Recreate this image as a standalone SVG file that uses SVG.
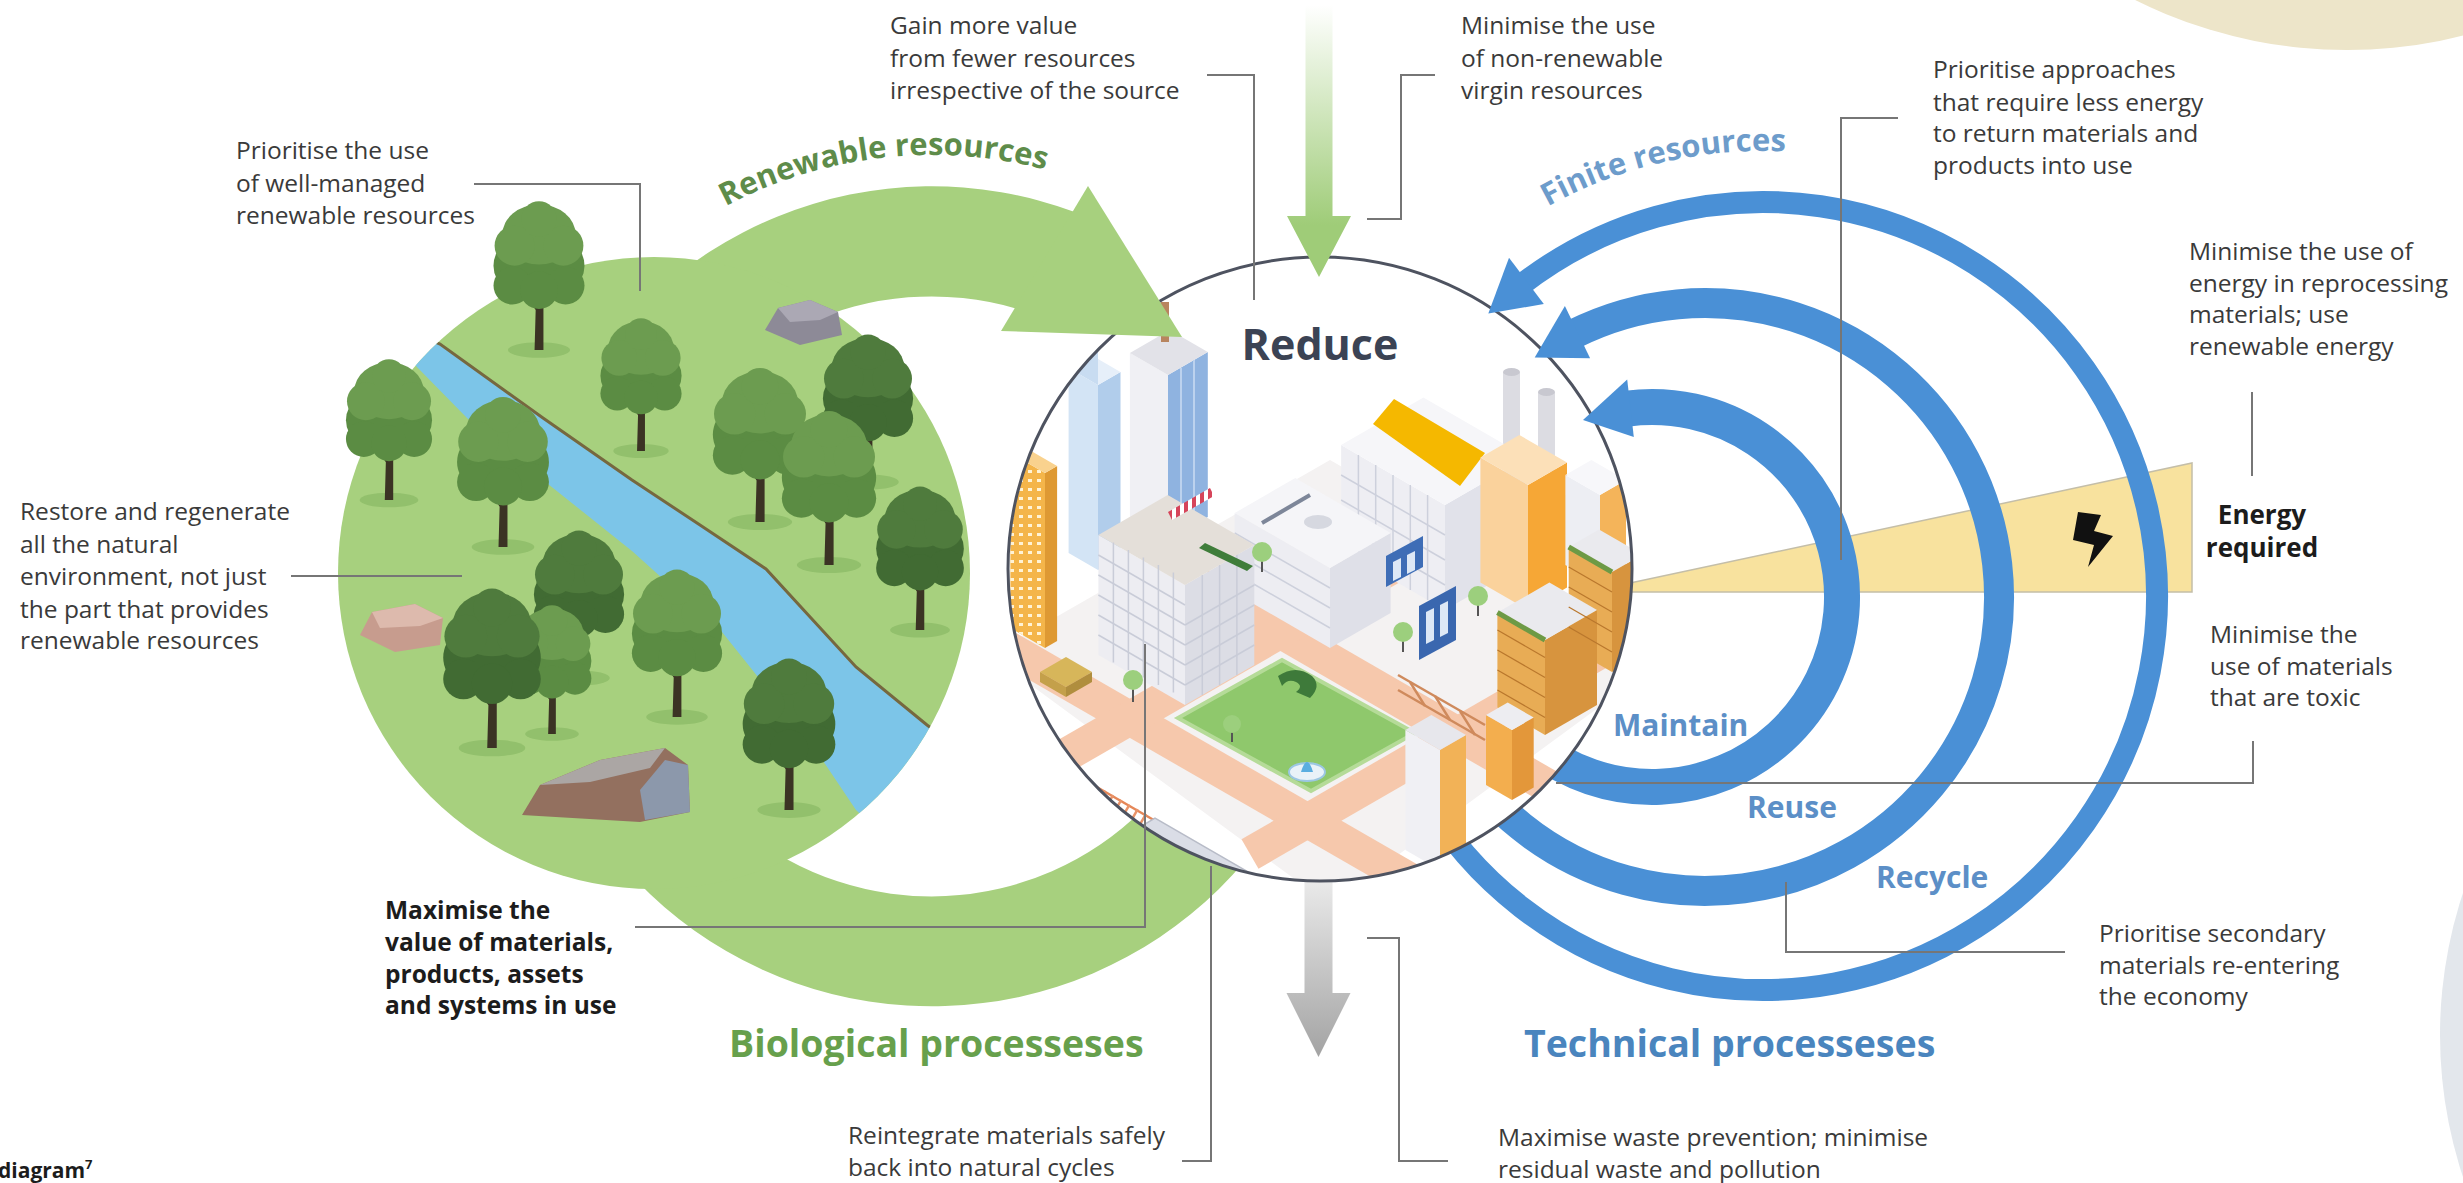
<svg xmlns="http://www.w3.org/2000/svg" xmlns:xlink="http://www.w3.org/1999/xlink" width="2463" height="1183" viewBox="0 0 2463 1183">
<defs>
<style>
.t{font-family:"Open Sans","Liberation Sans",Arial,sans-serif;font-size:24.5px;fill:#3A3A3A}
.b{font-weight:700;fill:#1C1C1C}
.ln{fill:none;stroke:#767676;stroke-width:2}
.ttl{font-family:"Open Sans","Liberation Sans",Arial,sans-serif;font-weight:700;font-size:37.5px}
.lb{font-family:"Open Sans","Liberation Sans",Arial,sans-serif;font-weight:700;font-size:30px;fill:#5C8FC7}
.crv{font-family:"Open Sans","Liberation Sans",Arial,sans-serif;font-weight:700;font-size:31px}
.arc{fill:none;stroke:#4A90D6}
</style>
<clipPath id="cityClip"><circle cx="1320" cy="569" r="312"/></clipPath>
<clipPath id="discClip"><circle cx="654" cy="573" r="316"/></clipPath>
<linearGradient id="gGreen" gradientUnits="userSpaceOnUse" x1="0" y1="5" x2="0" y2="225">
<stop offset="0" stop-color="#FFFFFF"/><stop offset="1" stop-color="#9FCC78"/>
</linearGradient>
<linearGradient id="gGray" gradientUnits="userSpaceOnUse" x1="0" y1="870" x2="0" y2="1057">
<stop offset="0" stop-color="#EEEEEE"/><stop offset="1" stop-color="#A3A3A3"/>
</linearGradient>
<pattern id="dots" width="9" height="9" patternUnits="userSpaceOnUse"><rect x="2" y="2" width="4" height="3" fill="#FFF3D6"/></pattern>
<pattern id="awn" width="8" height="8" patternUnits="userSpaceOnUse"><rect width="8" height="8" fill="#FFFFFF"/><rect width="4" height="8" fill="#D6445A"/></pattern>
<g id="cBot"><ellipse cx="0" cy="-76" rx="41" ry="32"/><circle cx="-24" cy="-58" r="17"/><circle cx="24" cy="-58" r="17"/><circle cx="0" cy="-54" r="17"/></g>
<g id="cTop"><ellipse cx="0" cy="-104" rx="33" ry="27"/><circle cx="-22" cy="-94" r="18"/><circle cx="22" cy="-94" r="18"/><circle cx="0" cy="-118" r="16"/></g>
<g id="trunk"><ellipse cx="0" cy="0" rx="28" ry="7" fill="#92C06C"/><path d="M-4,0 L-3,-36 L-12,-50 L-9,-52 L-2,-43 L-1,-58 L2,-58 L2,-44 L9,-53 L12,-51 L4,-38 L4,0 Z" fill="#3B3324"/></g>
<g id="treeM"><use href="#trunk"/><use href="#cBot" fill="#5B8C43"/><use href="#cTop" fill="#6C9C50"/></g>
<g id="treeD"><use href="#trunk"/><use href="#cBot" fill="#416B33"/><use href="#cTop" fill="#4F7B3D"/></g>
<path id="arcRen" d="M544.4,385.6 A441,441 0 0 1 1262.3,303.8"/>
<path id="arcFin" d="M1350.4,429.3 A445,445 0 0 1 2060.8,265.3"/>
</defs>

<rect width="2463" height="1183" fill="#FFFFFF"/>
<g id="decor">
<circle cx="2347" cy="-424" r="474" fill="#EDE5C9"/>
<circle cx="2890" cy="1035" r="450" fill="#E3E7EC"/>
</g>

<g id="energy-wedge">
<polygon points="1588,592 2192,463 2192,592" fill="#F8E29E" stroke="#C4BEA8" stroke-width="1.5"/>
<polygon points="2078,512 2101,515 2094,531 2113,536 2088,567 2094,545 2073,540" fill="#111111"/>
</g>

<g id="technical-loops">
<path class="arc" stroke-width="36" d="M1487.5,692 A190,190 0 1 0 1627.2,408.6"/>
<path class="arc" stroke-width="30" d="M1450.4,744 A294,294 0 1 0 1572.9,334.4"/>
<path class="arc" stroke-width="22" d="M1421.8,793 A394,394 0 1 0 1521,285.1"/>
</g>

<g id="biological-loop">
<path d="M1267.9,831.2 A410,410 0 1 1 1074.7,212 L1016.7,308.7 A300,300 0 1 0 1177.7,768.1 Z" fill="#A7D07E"/>
</g>

<g id="waste-arrow">
<polygon points="1304.5,860 1332.5,860 1332.5,993 1350.5,993 1318.5,1057 1286.5,993 1304.5,993" fill="url(#gGray)"/>
</g>

<g id="nature-disc">
<circle cx="654" cy="573" r="316" fill="#A7D07E"/>
<g clip-path="url(#discClip)">
<path d="M380,318 L440,344 L543,418 L632,480 L700,525 L766,569 L811,618 L856,667 L927,725 L1000,780 L950,900 L856,810 L811,743 L722,632 L632,551 L543,480 L467,418 L416,366 L370,340 Z" fill="#7CC5E8"/>
<polyline points="380,318 440,344 543,418 632,480 700,525 766,569 811,618 856,667 927,725 1000,780" fill="none" stroke="#76683F" stroke-width="3"/>
</g>
<g id="rocks">
<polygon points="765,330 778,308 810,300 838,312 842,335 800,345" fill="#8D8A97"/>
<polygon points="778,308 810,300 838,312 820,320 790,322" fill="#ABA8B4"/>
<polygon points="360,635 372,612 415,604 443,618 440,645 395,652" fill="#C79C8E"/>
<polygon points="372,612 415,604 443,618 420,626 380,628" fill="#DDBAAD"/>
<polygon points="522,815 540,785 600,760 665,748 688,765 690,812 640,822" fill="#93705F"/>
<polygon points="640,790 665,760 688,765 690,812 645,820" fill="#8C98AB"/>
<polygon points="540,785 600,760 665,748 650,768 590,782" fill="#ABA6A4"/>
</g>
<g id="trees">
<use href="#treeM" transform="translate(539,350) scale(1.11)"/>
<use href="#treeM" transform="translate(641,451) scale(0.99)"/>
<use href="#treeM" transform="translate(389,500) scale(1.05)"/>
<use href="#treeM" transform="translate(503,547) scale(1.12)"/>
<use href="#treeD" transform="translate(868,482) scale(1.1)"/>
<use href="#treeM" transform="translate(760,522) scale(1.15)"/>
<use href="#treeM" transform="translate(829,565) scale(1.15)"/>
<use href="#treeD" transform="translate(920,630) scale(1.07)"/>
<use href="#treeD" transform="translate(579,678) scale(1.1)"/>
<use href="#treeM" transform="translate(552,734) scale(0.96)"/>
<use href="#treeD" transform="translate(492,748) scale(1.19)"/>
<use href="#treeM" transform="translate(677,717) scale(1.1)"/>
<use href="#treeD" transform="translate(789,810) scale(1.13)"/>
</g>
</g>

<g id="reduce-city">
<circle cx="1320" cy="569" r="312" fill="#FFFFFF"/>
<g clip-path="url(#cityClip)">
<polygon points="990,655 1330,460 1670,655 1330,905" fill="#F4F2F2"/>
<g stroke="#F6C8AC" stroke-width="34">
<line x1="1001" y1="644" x2="1478" y2="919"/>
<line x1="1250" y1="854" x2="1650" y2="623"/>
<line x1="1200" y1="585" x2="1560" y2="793"/>
<line x1="1040" y1="770" x2="1420" y2="551"/>
</g>
<line x1="1095" y1="786" x2="1240" y2="870" stroke="#E58758" stroke-width="2.5"/>
<line x1="1090" y1="796" x2="1235" y2="880" stroke="#E58758" stroke-width="2.5"/>
<line x1="1092" y1="791" x2="1238" y2="875" stroke="#E9946A" stroke-width="14" stroke-dasharray="2.5 7"/>
<polygon points="1135,830 1155,818 1300,902 1280,914" fill="#DADDE6" stroke="#B8BCC8" stroke-width="1.5"/>
<polygon points="1178,718 1282,660 1415,733 1311,791" fill="#8FC86C" stroke="#B5DB98" stroke-width="4"/>
<path d="M1278,676 q18,-12 34,0 q10,10 -2,22 l-14,-6 q8,-6 0,-10 q-8,-4 -14,4 z" fill="#3E7A3A"/>
<ellipse cx="1307" cy="772" rx="18" ry="9" fill="#E9F2F8" stroke="#9CC7E3" stroke-width="2"/>
<path d="M1301,772 q6,-20 12,0 z" fill="#5AAEE0"/>
<rect x="1503" y="372" width="17" height="95" fill="#DCDCE2"/>
<ellipse cx="1511.5" cy="372" rx="8.5" ry="4" fill="#C8C8D0"/>
<rect x="1538" y="392" width="17" height="80" fill="#DCDCE2"/>
<ellipse cx="1546.5" cy="392" rx="8.5" ry="4" fill="#C8C8D0"/>
<g id="glass-tower">
<polygon points="1098,570 1068.6,553 1068.6,368 1098,385" fill="#D3E4F5"/>
<polygon points="1098,570 1120.5,557 1120.5,372 1098,385" fill="#B1CDEB"/>
<polygon points="1098,385 1120.5,372 1091.1,355 1068.6,368" fill="#E6EFF9"/>
<polygon points="1068.6,368 1082,332 1098,345 1098,385" fill="#C8DCF1"/>
</g>
<g id="blue-tower">
<polygon points="1168,540 1129.9,518 1129.9,353 1168,375" fill="#F0F0F4"/>
<polygon points="1168,540 1207.8,517 1207.8,352 1168,375" fill="#8FB3E0"/>
<polygon points="1168,375 1207.8,352 1169.7,330 1129.9,353" fill="#E2E2E8"/>
<line x1="1181" y1="368" x2="1181" y2="532" stroke="#BCD2EE" stroke-width="2"/>
<line x1="1194" y1="360" x2="1194" y2="525" stroke="#BCD2EE" stroke-width="2"/>
<rect x="1161" y="302" width="8" height="40" fill="#B8855F"/>
</g>
<g id="factory">
<polygon points="1445,610 1341.1,550 1341.1,445 1445,505" fill="#EEEEF3"/>
<polygon points="1445,610 1527.3,562.5 1527.3,457.5 1445,505" fill="#E1E2EA"/>
<polygon points="1445,505 1527.3,457.5 1423.4,397.5 1341.1,445" fill="#F6F6F9"/>
<polygon points="1373,424 1394,399 1485,453 1460,486" fill="#F5B800"/>
<g stroke="#CDD0DC" stroke-width="1.5">
<line x1="1341.1" y1="525" x2="1445" y2="585"/><line x1="1341.1" y1="500" x2="1445" y2="560"/><line x1="1341.1" y1="475" x2="1445" y2="535"/>
<line x1="1358.4" y1="560" x2="1358.4" y2="455"/><line x1="1375.7" y1="570" x2="1375.7" y2="465"/><line x1="1393" y1="580" x2="1393" y2="475"/><line x1="1410.3" y1="590" x2="1410.3" y2="485"/><line x1="1427.6" y1="600" x2="1427.6" y2="495"/>
</g>
</g>
<g id="orange-block">
<polygon points="1528,610 1480.4,582.5 1480.4,457.5 1528,485" fill="#FAD29C"/>
<polygon points="1528,610 1567,587.5 1567,462.5 1528,485" fill="#F6A736"/>
<polygon points="1528,485 1567,462.5 1519.4,435 1480.4,457.5" fill="#FCE0B8"/>
</g>
<polygon points="1600,585 1565.4,565 1565.4,475 1600,495" fill="#EDEEF3"/>
<polygon points="1600,585 1626,570 1626,480 1600,495" fill="#F4B45A"/>
<polygon points="1600,495 1626,480 1591.4,460 1565.4,475" fill="#F7F7FA"/>
<g id="mid-block">
<polygon points="1330,648 1234.7,593 1234.7,513 1330,568" fill="#EDEDF2"/>
<polygon points="1330,648 1390.6,613 1390.6,533 1330,568" fill="#DFE0E8"/>
<polygon points="1330,568 1390.6,533 1295.3,478 1234.7,513" fill="#F5F5F8"/>
<line x1="1262" y1="523" x2="1310" y2="495" stroke="#7D8699" stroke-width="4"/>
<ellipse cx="1318" cy="522" rx="14" ry="7" fill="#D6D8E0"/>
<g stroke="#CDD0DC" stroke-width="1.5"><line x1="1234.7" y1="573" x2="1330" y2="628"/><line x1="1234.7" y1="553" x2="1330" y2="608"/><line x1="1234.7" y1="533" x2="1330" y2="588"/></g>
</g>
<polygon points="1386,556 1423,536 1423,567 1386,587" fill="#3E6DB6"/>
<polygon points="1393,562 1401,558 1401,577 1393,581" fill="#DDE8F6"/>
<polygon points="1407,555 1415,551 1415,570 1407,574" fill="#DDE8F6"/>
<polygon points="1419,606 1456,586 1456,640 1419,660" fill="#3A67AF"/>
<polygon points="1426,612 1434,608 1434,640 1426,644" fill="#DDE8F6"/>
<polygon points="1440,605 1448,601 1448,633 1440,637" fill="#DDE8F6"/>
<g id="brick-blocks">
<polygon points="1612,672 1568.7,647 1568.7,547 1612,572" fill="#E8AC55"/>
<polygon points="1612,672 1642.3,654.5 1642.3,554.5 1612,572" fill="#D7943E"/>
<polygon points="1612,572 1642.3,554.5 1599,529.5 1568.7,547" fill="#EAEAEE"/>
<line x1="1568.7" y1="547" x2="1612" y2="572" stroke="#6D9A45" stroke-width="5"/>
<polygon points="1545,735 1497.4,707.5 1497.4,612.5 1545,640" fill="#E8AC55"/>
<polygon points="1545,735 1597,705 1597,610 1545,640" fill="#D7943E"/>
<polygon points="1545,640 1597,610 1549.4,582.5 1497.4,612.5" fill="#EAEAEE"/>
<line x1="1497.4" y1="612.5" x2="1545" y2="640" stroke="#6D9A45" stroke-width="5"/>
<g stroke="#B9772D" stroke-width="1.2">
<line x1="1497.4" y1="630" x2="1545" y2="657.5"/><line x1="1497.4" y1="650" x2="1545" y2="677.5"/><line x1="1497.4" y1="670" x2="1545" y2="697.5"/><line x1="1497.4" y1="690" x2="1545" y2="717.5"/>
<line x1="1568.7" y1="567" x2="1612" y2="592"/><line x1="1568.7" y1="587" x2="1612" y2="612"/><line x1="1568.7" y1="607" x2="1612" y2="632"/><line x1="1568.7" y1="627" x2="1612" y2="652"/>
</g>
</g>
<g id="orange-tall">
<polygon points="1045,648 1010.4,628 1010.4,453 1045,473" fill="#F4B54A"/>
<polygon points="1045,648 1010.4,628 1010.4,453 1045,473" fill="url(#dots)"/>
<polygon points="1045,648 1057.1,641 1057.1,466 1045,473" fill="#DE9933"/>
<polygon points="1045,473 1057.1,466 1022.5,446 1010.4,453" fill="#F9D28E"/>
</g>
<g id="big-white">
<polygon points="1185,705 1098.4,655 1098.4,535 1185,585" fill="#EDEDF2"/>
<polygon points="1185,705 1254.3,665 1254.3,545 1185,585" fill="#DCDDE5"/>
<polygon points="1185,585 1254.3,545 1167.7,495 1098.4,535" fill="#E4DFD9"/>
<g stroke="#C9CCD8" stroke-width="1.5">
<line x1="1098.4" y1="635" x2="1185" y2="685"/><line x1="1098.4" y1="615" x2="1185" y2="665"/><line x1="1098.4" y1="595" x2="1185" y2="645"/><line x1="1098.4" y1="575" x2="1185" y2="625"/><line x1="1098.4" y1="555" x2="1185" y2="605"/>
<line x1="1113.4" y1="662.5" x2="1113.4" y2="542.5"/><line x1="1128.4" y1="670" x2="1128.4" y2="550"/><line x1="1143.4" y1="677.5" x2="1143.4" y2="557.5"/><line x1="1158.4" y1="685" x2="1158.4" y2="565"/><line x1="1173.4" y1="692.5" x2="1173.4" y2="572.5"/>
<line x1="1185" y1="685" x2="1254.3" y2="645"/><line x1="1185" y1="665" x2="1254.3" y2="625"/><line x1="1185" y1="645" x2="1254.3" y2="605"/><line x1="1185" y1="625" x2="1254.3" y2="585"/>
<line x1="1202.3" y1="695" x2="1202.3" y2="575"/><line x1="1219.6" y1="685" x2="1219.6" y2="565"/><line x1="1236.9" y1="675" x2="1236.9" y2="555"/>
</g>
<polygon points="1168,512 1210,488 1214,496 1172,520" fill="url(#awn)"/>
<polygon points="1199,548 1205,543 1253,566 1247,571" fill="#3F7D3A"/>
</g>
<polygon points="1040,672 1066,657 1092,672 1066,687" fill="#D7B65A"/>
<polygon points="1040,672 1066,687 1066,697 1040,682" fill="#C4A04A"/>
<polygon points="1066,687 1092,672 1092,682 1066,697" fill="#B08E3E"/>
<g stroke="#CF8A5C" stroke-width="2.5">
<line x1="1398" y1="690" x2="1485" y2="740"/><line x1="1398" y1="675" x2="1485" y2="725"/>
<line x1="1410" y1="682" x2="1425" y2="706"/><line x1="1435" y1="696" x2="1450" y2="720"/><line x1="1460" y1="711" x2="1475" y2="735"/>
</g>
<polygon points="1440,870 1405.4,850 1405.4,730 1440,750" fill="#F0F0F4"/>
<polygon points="1440,870 1466,855 1466,735 1440,750" fill="#F2B257"/>
<polygon points="1440,750 1466,735 1431.4,715 1405.4,730" fill="#E7E7EC"/>
<polygon points="1512,800 1486,785 1486,715 1512,730" fill="#F3AE4E"/>
<polygon points="1512,800 1533.7,787.5 1533.7,717.5 1512,730" fill="#E3973A"/>
<polygon points="1512,730 1533.7,717.5 1507.7,702.5 1486,715" fill="#EDEDF1"/>
<g fill="#9CCF7D">
<line x1="1133" y1="702" x2="1133" y2="684" stroke="#555" stroke-width="2"/><circle cx="1133" cy="680" r="10"/>
<line x1="1262" y1="572" x2="1262" y2="556" stroke="#555" stroke-width="2"/><circle cx="1262" cy="552" r="10"/>
<line x1="1403" y1="652" x2="1403" y2="636" stroke="#555" stroke-width="2"/><circle cx="1403" cy="632" r="10"/>
<line x1="1478" y1="616" x2="1478" y2="600" stroke="#555" stroke-width="2"/><circle cx="1478" cy="596" r="10"/>
<line x1="1232" y1="742" x2="1232" y2="728" stroke="#555" stroke-width="2"/><circle cx="1232" cy="724" r="9"/>
</g>
</g>
<circle cx="1320" cy="569" r="312" fill="none" stroke="#4E5360" stroke-width="3"/>
<text x="1320" y="360" text-anchor="middle" style="font-family:'Open Sans','Liberation Sans',Arial,sans-serif;font-weight:700;font-size:43px;fill:#3B4354">Reduce</text>
</g>

<g id="arrowheads">
<polygon points="1088,186 1182,337 1001,331" fill="#A7D07E"/>
<polygon points="1627.2,379.4 1583,420 1633.8,437" fill="#4A90D6"/>
<polygon points="1564.9,306 1534.7,357.4 1590.1,358.2" fill="#4A90D6"/>
<polygon points="1509,257.7 1488.3,313.5 1543.8,304.1" fill="#4A90D6"/>
</g>

<g id="virgin-arrow">
<polygon points="1305.5,0 1332.5,0 1332.5,216 1351,216 1319,277 1287,216 1305.5,216" fill="url(#gGreen)"/>
</g>

<g id="connectors">
<path class="ln" d="M474,184 H640 V291"/>
<path class="ln" d="M291,576 H462"/>
<path class="ln" d="M1207,75 H1254 V300"/>
<path class="ln" d="M1435,75 H1401 V219 H1367"/>
<path class="ln" d="M1898,118 H1841 V560"/>
<path class="ln" d="M2252,392 V476"/>
<path class="ln" d="M2253,741 V783 H1556"/>
<path class="ln" d="M2065,952 H1786 V882"/>
<path class="ln" d="M1367,938 H1399 V1161 H1448"/>
<path class="ln" d="M1182,1161 H1211 V866"/>
<path class="ln" d="M635,927 H1145 V644"/>
</g>

<g id="labels">
<text class="crv" fill="#5E8C4A"><textPath href="#arcRen" startOffset="50%" text-anchor="middle">Renewable resources</textPath></text>
<text class="crv" fill="#6D9CCB"><textPath href="#arcFin" startOffset="50%" text-anchor="middle">Finite resources</textPath></text>
<text class="ttl" x="729" y="1057" fill="#67A04C">Biological processeses</text>
<text class="ttl" x="1524" y="1057" fill="#4A85BE">Technical processeses</text>
<text class="lb" x="1613" y="736">Maintain</text>
<text class="lb" x="1747" y="818">Reuse</text>
<text class="lb" x="1876" y="888">Recycle</text>
</g>

<g id="note-renewable"><text class="t"><tspan x="236" y="159">Prioritise the use</tspan><tspan x="236" y="191.5">of well-managed</tspan><tspan x="236" y="224">renewable resources</tspan></text></g>
<g id="note-restore"><text class="t"><tspan x="20" y="520">Restore and regenerate</tspan><tspan x="20" y="553">all the natural</tspan><tspan x="20" y="585">environment, not just</tspan><tspan x="20" y="618">the part that provides</tspan><tspan x="20" y="649">renewable resources</tspan></text></g>
<g id="note-value"><text class="t"><tspan x="890" y="34">Gain more value</tspan><tspan x="890" y="67">from fewer resources</tspan><tspan x="890" y="99">irrespective of the source</tspan></text></g>
<g id="note-virgin"><text class="t"><tspan x="1461" y="34">Minimise the use</tspan><tspan x="1461" y="67">of non-renewable</tspan><tspan x="1461" y="99">virgin resources</tspan></text></g>
<g id="note-approaches"><text class="t"><tspan x="1933" y="78">Prioritise approaches</tspan><tspan x="1933" y="111">that require less energy</tspan><tspan x="1933" y="142">to return materials and</tspan><tspan x="1933" y="174">products into use</tspan></text></g>
<g id="note-energy"><text class="t"><tspan x="2189" y="260">Minimise the use of</tspan><tspan x="2189" y="292">energy in reprocessing</tspan><tspan x="2189" y="323">materials; use</tspan><tspan x="2189" y="355">renewable energy</tspan></text></g>
<g id="note-required"><text class="t b" text-anchor="middle" style="font-size:26px"><tspan x="2262" y="524">Energy</tspan><tspan x="2262" y="557">required</tspan></text></g>
<g id="note-toxic"><text class="t"><tspan x="2210" y="643">Minimise the</tspan><tspan x="2210" y="675">use of materials</tspan><tspan x="2210" y="706">that are toxic</tspan></text></g>
<g id="note-secondary"><text class="t"><tspan x="2099" y="942">Prioritise secondary</tspan><tspan x="2099" y="974">materials re-entering</tspan><tspan x="2099" y="1005">the economy</tspan></text></g>
<g id="note-waste"><text class="t"><tspan x="1498" y="1146">Maximise waste prevention; minimise</tspan><tspan x="1498" y="1178">residual waste and pollution</tspan></text></g>
<g id="note-reintegrate"><text class="t"><tspan x="848" y="1144">Reintegrate materials safely</tspan><tspan x="848" y="1176">back into natural cycles</tspan></text></g>
<g id="note-maximise"><text class="t b"><tspan x="385" y="919">Maximise the</tspan><tspan x="385" y="951">value of materials,</tspan><tspan x="385" y="983">products, assets</tspan><tspan x="385" y="1014">and systems in use</tspan></text></g>
<g id="caption"><text class="t b" x="-2" y="1178" style="font-size:21px">diagram<tspan style="font-size:13px" dy="-9">7</tspan></text></g>
</svg>
